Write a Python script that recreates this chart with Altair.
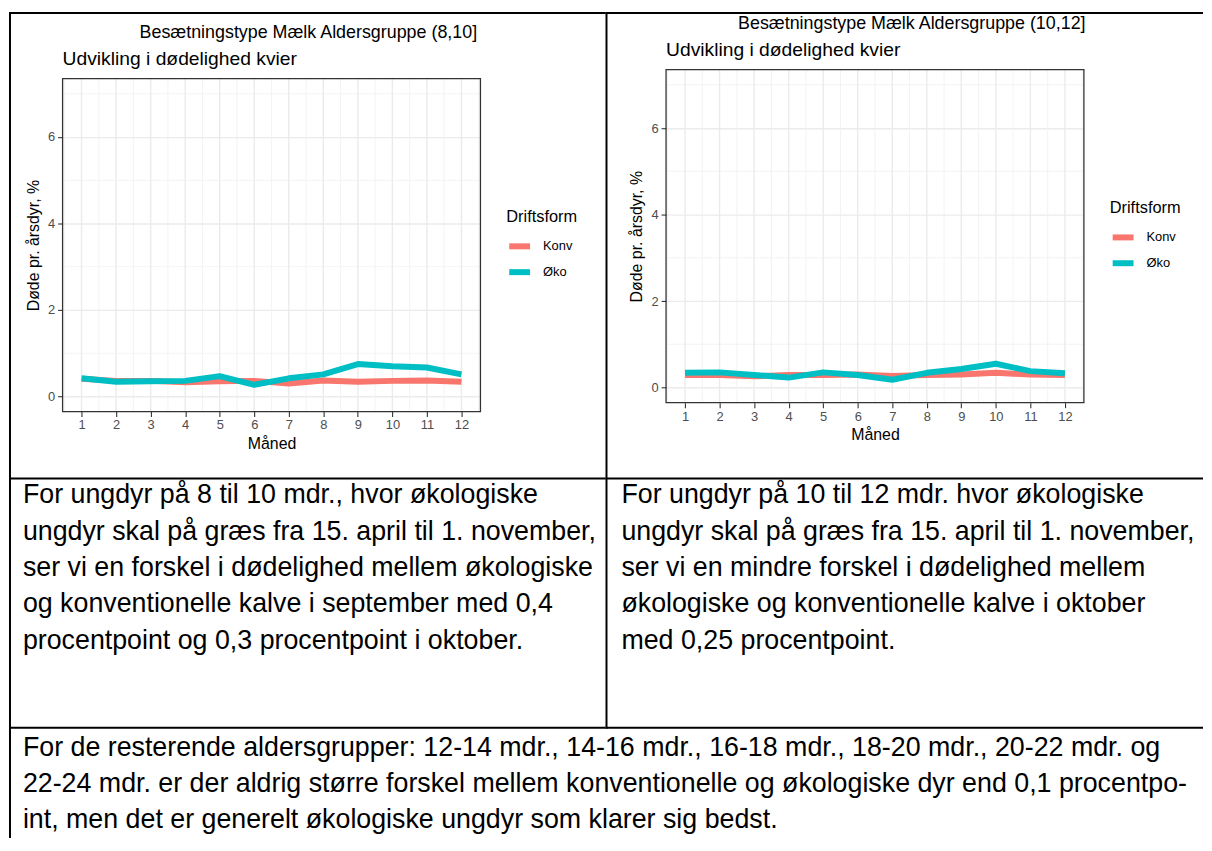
import altair as alt
import pandas as pd

# ---------------- data ----------------
MONTHS = [1, 2, 3, 4, 5, 6, 7, 8, 9, 10, 11, 12]
SERIES = ["Konv", "Øko"]
COLORS = ["#F8766D", "#00BFC4"]

KONV_8_10 = [0.41, 0.36, 0.36, 0.33, 0.35, 0.36, 0.30, 0.37, 0.34, 0.36, 0.37, 0.34]
OKO_8_10 = [0.42, 0.34, 0.35, 0.36, 0.47, 0.27, 0.42, 0.51, 0.75, 0.70, 0.67, 0.51]
KONV_10_12 = [0.29, 0.29, 0.26, 0.29, 0.29, 0.30, 0.27, 0.29, 0.30, 0.34, 0.30, 0.29]
OKO_10_12 = [0.34, 0.35, 0.29, 0.23, 0.35, 0.29, 0.18, 0.34, 0.43, 0.55, 0.38, 0.33]

Y_TICKS = [0, 2, 4, 6]
Y_MINOR = [1, 3, 5, 7]
X_MINOR = [0.5, 1.5, 2.5, 3.5, 4.5, 5.5, 6.5, 7.5, 8.5, 9.5, 10.5, 11.5, 12.5]
X_DOMAIN = [0.45, 12.55]
Y_DOMAIN = [-0.35, 7.35]

HEADER_1 = "Besætningstype Mælk Aldersgruppe (8,10]"
HEADER_2 = "Besætningstype Mælk Aldersgruppe (10,12]"
SUBTITLE = "Udvikling i dødelighed kvier"
Y_TITLE = "Døde pr. årsdyr, %"
X_TITLE = "Måned"
LEGEND_TITLE = "Driftsform"

TEXT_LEFT = [
    "For ungdyr på 8 til 10 mdr., hvor økologiske",
    "ungdyr skal på græs fra 15. april til 1. november,",
    "ser vi en forskel i dødelighed mellem økologiske",
    "og konventionelle kalve i september med 0,4",
    "procentpoint og 0,3 procentpoint i oktober.",
]
TEXT_RIGHT = [
    "For ungdyr på 10 til 12 mdr. hvor økologiske",
    "ungdyr skal på græs fra 15. april til 1. november,",
    "ser vi en mindre forskel i dødelighed mellem",
    "økologiske og konventionelle kalve i oktober",
    "med 0,25 procentpoint.",
]
TEXT_BOTTOM = [
    "For de resterende aldersgrupper: 12-14 mdr., 14-16 mdr., 16-18 mdr., 18-20 mdr., 20-22 mdr. og",
    "22-24 mdr. er der aldrig større forskel mellem konventionelle og økologiske dyr end 0,1 procentpo-",
    "int, men det er generelt økologiske ungdyr som klarer sig bedst.",
]

# ---------------- styling / layout ----------------
FONT = "Liberation Sans"
W = 421
PANEL_H = 335.5
PARA_SIZE = 27
PARA_LH = 36.6
ONE = alt.Data(values=[{}])


def block(x1, x2, y1, y2):
    return alt.Chart(ONE).mark_rect(color="black").encode(
        x=alt.value(x1), x2=alt.value(x2), y=alt.value(y1), y2=alt.value(y2)
    )


def label(txt, x, y, size, align="left", baseline="middle", line_height=None):
    kw = {}
    if line_height is not None:
        kw["lineHeight"] = line_height
    return alt.Chart(ONE).mark_text(
        text=txt, font=FONT, fontSize=size, align=align, baseline=baseline,
        color="black", **kw
    ).encode(x=alt.value(x), y=alt.value(y))


def panel(konv, oko, header, top, borders, texts):
    """top = offset of the plot panel inside the view (px)."""
    H = top + PANEL_H
    df = pd.DataFrame({
        "month": MONTHS + MONTHS,
        "value": konv + oko,
        "Driftsform": [SERIES[0]] * len(MONTHS) + [SERIES[1]] * len(MONTHS),
    })
    xs = alt.Scale(domain=X_DOMAIN, nice=False, zero=False)
    ys = alt.Scale(domain=Y_DOMAIN, range=[H, top], nice=False, zero=False)
    common_axis = dict(
        domain=False,
        tickColor="#333333", tickWidth=1.1, tickSize=5,
        labelFont=FONT, labelFontSize=13, labelColor="#4D4D4D",
        labelFlush=False, labelOverlap=False,
        titleFont=FONT, titleFontSize=16, titleFontWeight="normal",
        titleColor="black", titleBaseline="middle", titleAlign="center",
        format="d",
    )
    ax_x = alt.Axis(values=MONTHS, grid=False, labelPadding=2.5,
                    titleX=W / 2, titleY=32.5, **common_axis)
    ax_y = alt.Axis(values=Y_TICKS, grid=True, gridColor="#EBEBEB",
                    gridWidth=1.4, labelPadding=3, titleAngle=270,
                    titleX=-29.3, titleY=top + PANEL_H / 2, **common_axis)
    X = lambda: alt.X("month:Q", scale=xs, title=X_TITLE, axis=ax_x)
    Y = lambda: alt.Y("value:Q", scale=ys, title=Y_TITLE, axis=ax_y)

    xminor = alt.Chart(pd.DataFrame({"month": X_MINOR})).mark_rule(
        color="#F0F0F0", strokeWidth=0.8
    ).encode(x=X(), y=alt.value(top), y2=alt.value(H))
    xmajor = alt.Chart(pd.DataFrame({"month": MONTHS})).mark_rule(
        color="#EBEBEB", strokeWidth=1.4
    ).encode(x=X(), y=alt.value(top), y2=alt.value(H))
    yminor = alt.Chart(pd.DataFrame({"value": Y_MINOR})).mark_rule(
        color="#F0F0F0", strokeWidth=0.8
    ).encode(y=Y(), x=alt.value(0), x2=alt.value(W))

    lines = alt.Chart(df).mark_line(
        strokeWidth=6, strokeJoin="round", strokeCap="butt"
    ).encode(
        x=X(),
        y=Y(),
        color=alt.Color(
            "Driftsform:N",
            scale=alt.Scale(domain=SERIES, range=COLORS),
            legend=alt.Legend(
                orient="none", legendX=447, legendY=top + 131,
                title=LEGEND_TITLE, titleFont=FONT, titleFontSize=16.5,
                titleFontWeight="normal", titleColor="black", titlePadding=8,
                labelFont=FONT, labelFontSize=13, labelColor="black",
                labelOffset=10, symbolType="stroke", symbolStrokeWidth=6,
                symbolSize=441, rowPadding=0, padding=0,
            ),
        ),
    )
    frame = alt.Chart(ONE).mark_rect(
        fillOpacity=0, stroke="#333333", strokeWidth=1.3
    ).encode(x=alt.value(0), x2=alt.value(W), y=alt.value(top), y2=alt.value(H))

    layers = [xminor, yminor, xmajor, lines, frame,
              label(header, 247.6, top - 46, 18, align="center"),
              label(SUBTITLE, 0, top - 19.8, 19.4)]
    layers += [block(*b) for b in borders]
    for txt, tx, ty in texts:
        layers.append(label(txt, tx, ty, PARA_SIZE, baseline="alphabetic",
                            line_height=PARA_LH))
    return alt.layer(*layers).properties(width=W, height=H)


# canvas origins of the two views (both views start at the same row)
O1 = (54, 58)
O2 = (662, 58)


def rel(o, x1, x2, y1, y2):
    return (x1 - o[0], x2 - o[0], y1 - o[1], y2 - o[1])


borders1 = [
    rel(O1, 0, 2, 0, 832),        # left outer border
    rel(O1, 0, 601, 0, 2),        # top border
    rel(O1, 0, 601, 469, 471),    # row separator
    rel(O1, 0, 601, 720, 722),    # row separator
]
borders2 = [
    rel(O2, 601, 603, 0, 722),    # column divider
    rel(O2, 601, 1203, 0, 2),     # top border
    rel(O2, 601, 1203, 469, 471),
    rel(O2, 601, 1203, 720, 722),
]

c1 = panel(KONV_8_10, OKO_8_10, HEADER_1, 9, borders1, [
    (TEXT_LEFT, 14 - O1[0], 495 - O1[1]),
    (TEXT_BOTTOM, 14 - O1[0], 749 - O1[1]),
])
c2 = panel(KONV_10_12, OKO_10_12, HEADER_2, 0, borders2, [
    (TEXT_RIGHT, 617 - O2[0], 495 - O2[1]),
])

chart = alt.hconcat(
    c1, c2, spacing=O2[0] - O1[0] - W, bounds="flush"
).resolve_scale(color="independent").properties(
    padding=0, background="white"
).configure(font=FONT).configure_view(stroke="transparent")

chart.save("out.html", embed_options={"renderer": "svg", "actions": False})
